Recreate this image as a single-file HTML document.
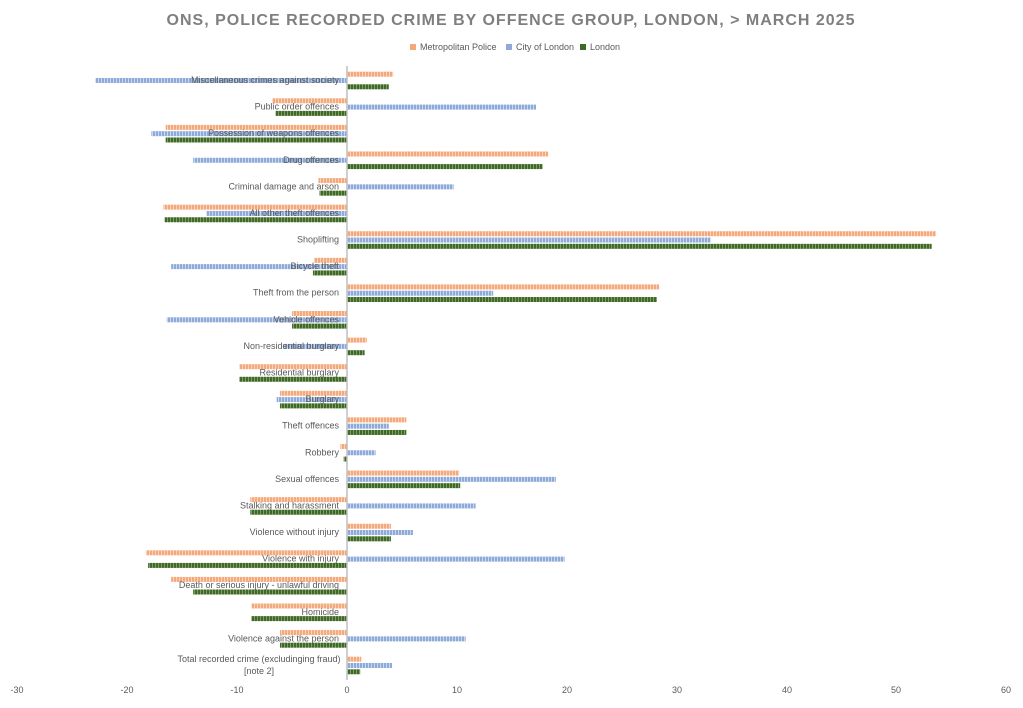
<!DOCTYPE html>
<html><head><meta charset="utf-8"><style>
body{margin:0;background:#fff;}
svg text{font-family:"Liberation Sans",sans-serif;}
</style></head><body>
<svg width="1023" height="703" viewBox="0 0 1023 703" xmlns="http://www.w3.org/2000/svg">
<defs>
<pattern id="po" width="3" height="6" patternUnits="userSpaceOnUse"><rect width="3" height="6" fill="#fbd3b8"/><rect width="2" height="6" fill="#f4a97c"/></pattern>
<pattern id="pb" width="3" height="6" patternUnits="userSpaceOnUse"><rect width="3" height="6" fill="#c8d6ee"/><rect width="2" height="6" fill="#8eaadb"/></pattern>
<pattern id="pg" width="3" height="6" patternUnits="userSpaceOnUse"><rect width="3" height="6" fill="#7f9c6a"/><rect width="2" height="6" fill="#3f6a25"/></pattern>
</defs>
<rect width="1023" height="703" fill="#fff"/>
<text x="511" y="25" text-anchor="middle" font-size="16" font-weight="bold" fill="#7f7f7f" letter-spacing="1">ONS, POLICE RECORDED CRIME BY OFFENCE GROUP, LONDON, &gt; MARCH 2025</text>
<g font-size="9" fill="#595959">
<rect x="410" y="44" width="6" height="6" fill="#f4a97c"/><text x="420" y="50">Metropolitan Police</text>
<rect x="506" y="44" width="6" height="6" fill="#8eaadb"/><text x="516" y="50">City of London</text>
<rect x="580" y="44" width="6" height="6" fill="#3f6a25"/><text x="590" y="50">London</text>
</g>
<g id="bars"></g>
<line x1="347" y1="66" x2="347" y2="680" stroke="#bfbfbf" stroke-width="1.5"/>
<g id="labels" font-size="9" fill="#595959" text-anchor="end"></g>
<g font-size="9" fill="#595959" text-anchor="middle">
<text x="17" y="693">-30</text><text x="127" y="693">-20</text><text x="237" y="693">-10</text><text x="347" y="693">0</text><text x="457" y="693">10</text><text x="567" y="693">20</text><text x="677" y="693">30</text><text x="787" y="693">40</text><text x="896" y="693">50</text><text x="1006" y="693">60</text>
</g>
<script>
var d=[["Miscellaneous crimes against society",4.2,-22.9,3.8],
["Public order offences",-6.8,17.2,-6.5],
["Possession of weapons offences",-16.5,-17.8,-16.5],
["Drug offences",18.3,-14,17.8],
["Criminal damage and arson",-2.6,9.7,-2.5],
["All other theft offences",-16.7,-12.8,-16.6],
["Shoplifting",53.6,33.1,53.2],
["Bicycle theft",-3,-16,-3.1],
["Theft from the person",28.4,13.3,28.2],
["Vehicle offences",-5,-16.4,-5],
["Non-residential burglary",1.8,-5.8,1.6],
["Residential burglary",-9.8,0,-9.8],
["Burglary",-6.1,-6.4,-6.1],
["Theft offences",5.4,3.8,5.4],
["Robbery",-0.6,2.6,-0.3],
["Sexual offences",10.2,19,10.3],
["Stalking and harassment",-8.8,11.7,-8.8],
["Violence without injury",4,6,4],
["Violence with injury",-18.3,19.8,-18.1],
["Death or serious injury - unlawful driving",-16,0,-14],
["Homicide",-8.7,0,-8.7],
["Violence against the person",-6.1,10.8,-6.1],
["Total recorded crime (excludinging fraud)|[note 2]",1.3,4.1,1.2]];
var ns="http://www.w3.org/2000/svg",B=document.getElementById("bars"),L=document.getElementById("labels");
var z=347,s=10.99,fills=["url(#po)","url(#pb)","url(#pg)"];
d.forEach(function(r,i){var c=80+i*26.59;
for(var k=0;k<3;k++){var v=r[k+1];if(!v)continue;var e=document.createElementNS(ns,"rect");
var x1=z+Math.min(0,v)*s,w=Math.abs(v)*s;e.setAttribute("x",x1);e.setAttribute("y",c-8.3+k*6.3);e.setAttribute("width",w);e.setAttribute("height",5);e.setAttribute("fill",fills[k]);B.appendChild(e);}
var parts=r[0].split("|");
if(parts.length==1){var t=document.createElementNS(ns,"text");t.setAttribute("x",339);t.setAttribute("y",c+3);t.textContent=parts[0];L.appendChild(t);}
else{parts.forEach(function(p,j){var t=document.createElementNS(ns,"text");t.setAttribute("x",259);t.setAttribute("text-anchor","middle");t.setAttribute("y",c-3+j*12);t.textContent=p;L.appendChild(t);});}
});
</script>
</svg>
</body></html>
